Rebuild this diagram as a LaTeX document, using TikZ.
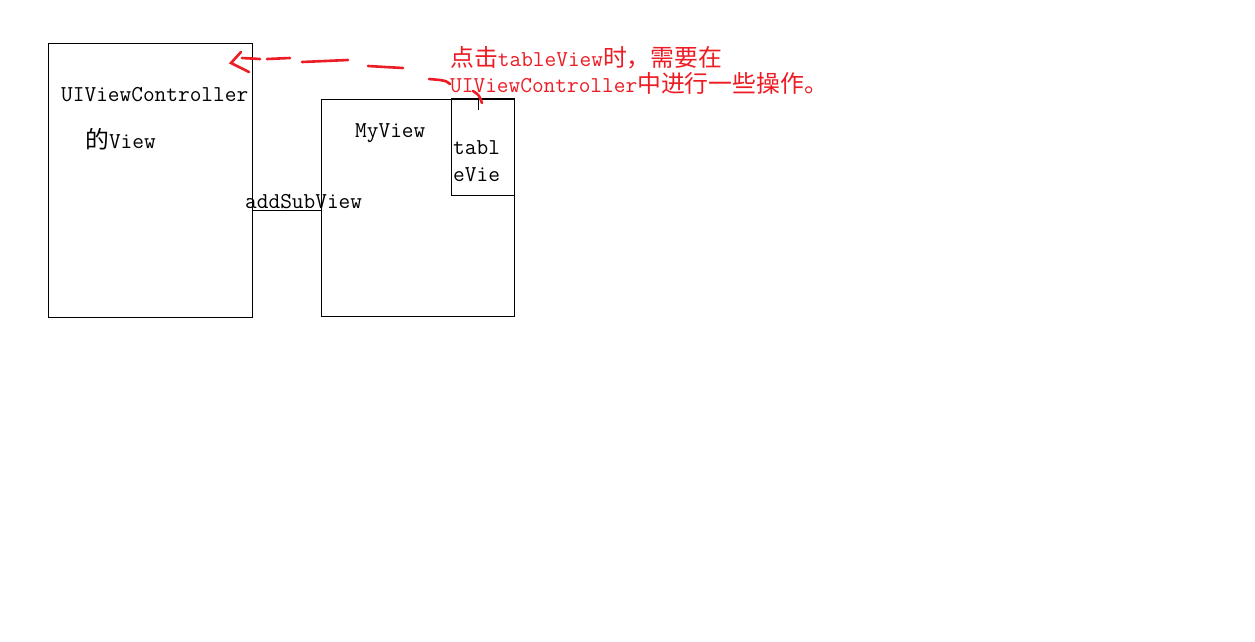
\documentclass[tikz,border=0pt]{standalone}
\usepackage{fontspec}
\newfontfamily\cjk{Noto Sans CJK SC}[Scale=1.05]
\definecolor{pred}{RGB}{237,28,36}
\begin{document}
\begin{tikzpicture}[x=1pt,y=-1pt,
  box/.style={draw=black,line width=0.9pt},
  lbl/.style={anchor=base west,inner sep=0pt,font=\fontsize{22.7}{26}\selectfont\ttfamily},
  rlbl/.style={lbl,text=pred},
  stroke/.style={draw=pred,line width=2.6pt,line cap=round}]
\useasboundingbox[fill=white] (0,0) rectangle (1255,641);
% boxes
\draw[box] (48,43) rectangle (252,317);
\draw[box] (321,99) rectangle (514,316);
\draw[box] (451,98) rectangle (514,195);
\draw[line width=1.6pt] (451,98.5) -- (514,98.5);
% connector
\coordinate (c1) at (252,210);
\coordinate (c2) at (321,210);
\draw[line width=0.9pt] (c1) -- (c2);
% labels
\node[lbl] (uivc) at (61,101) {UIViewController};
\node[lbl] (dv) at (85,148) {{\cjk 的}View};
\node[lbl] (mv) at (355,137) {MyView};
\node[lbl] (t1) at (453,154) {tabl};
\node[lbl] (t2) at (453,181) {eVie};
\node[lbl] (asv) at (245,208) {addSubView};
\node[rlbl] (r1) at (450,66) {{\cjk 点击}tableView{\cjk 时，需要在}};
\node[rlbl] (r2) at (450,92) {UIViewController{\cjk 中进行一些操作。}};
% red hand-drawn arrow
\draw[stroke] (241,52) -- (231,63) -- (249,72);
\draw[stroke] (242,58) -- (260,59);
\draw[stroke] (267,59) -- (290,58);
\draw[stroke] (302,62) -- (348,60);
\draw[stroke] (368,66) -- (385,67) -- (403,68);
\draw[stroke] (429,79) -- (440,80) .. controls (446,81) .. (450,84);
\draw[stroke] (473,91) .. controls (479,95) .. (482,103);
\draw[line width=0.6pt] (478,98) -- (478,110);
\end{tikzpicture}
\end{document}
